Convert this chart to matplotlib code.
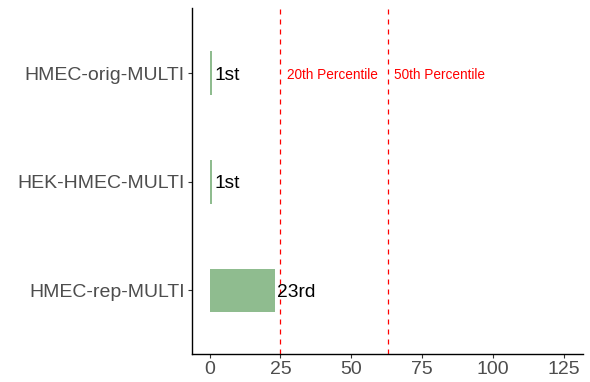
import matplotlib.pyplot as plt

plt.rcParams['font.family'] = ['Liberation Sans', 'DejaVu Sans']

# Samples, top to bottom, and their ranks
samples = ["HMEC-orig-MULTI", "HEK-HMEC-MULTI", "HMEC-rep-MULTI"]
ranks = [1, 1, 23]
rank_labels = ["1st", "1st", "23rd"]

# Percentile cut-offs
cutoffs = [25, 63]
cutoff_labels = ["20th Percentile", "50th Percentile"]

fig = plt.figure(figsize=(5.9, 3.82), dpi=100)
ax = fig.add_axes([0.325, 0.072, 0.663, 0.907])

ypos = list(range(len(samples), 0, -1))
ax.barh(ypos, ranks, height=0.4, color="#8FBC8F")

for y, r, lab in zip(ypos, ranks, rank_labels):
    ax.annotate(lab, (r, y), xytext=(1.5, -1.5), textcoords="offset points",
                ha="left", va="center", fontsize=13.8, color="black")

for c, lab in zip(cutoffs, cutoff_labels):
    ax.axvline(c, color="red", linestyle=(0, (4, 4)), linewidth=0.9)
    ax.annotate(lab, (c, ypos[0]), xytext=(4.5, -1.5), textcoords="offset points",
                ha="left", va="center", fontsize=9.8, color="red")

ax.set_xlim(-6.3, 131.7)
ax.set_ylim(0.41, 3.6)
ax.set_xticks([0, 25, 50, 75, 100, 125])
ax.set_yticks(ypos)
ax.set_yticklabels(samples)
ax.tick_params(axis="both", labelsize=14, labelcolor="#4D4D4D", length=3,
               width=0.8, color="#333333", pad=2)

ax.spines["top"].set_visible(False)
ax.spines["right"].set_visible(False)
for s in ["left", "bottom"]:
    ax.spines[s].set_linewidth(1)
    ax.spines[s].set_color("black")

fig.savefig("out.png", dpi=100)
